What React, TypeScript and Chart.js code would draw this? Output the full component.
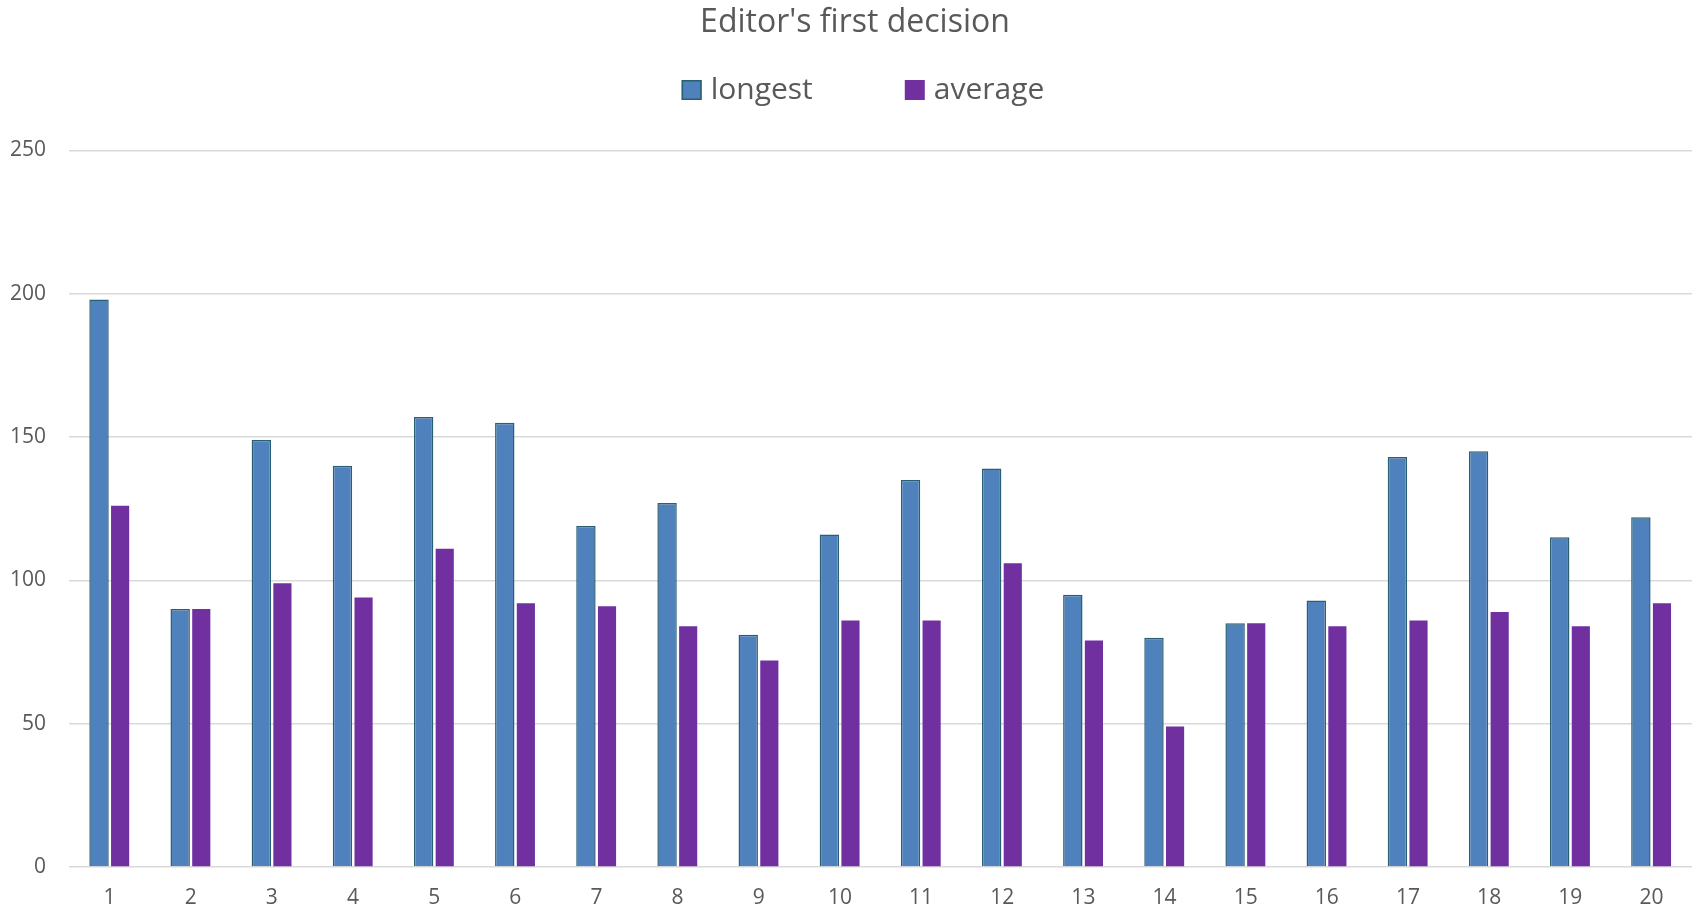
import React, { useEffect, useRef } from "react";
import { Chart, registerables } from "chart.js";

Chart.register(...registerables);

const categories = ["1","2","3","4","5","6","7","8","9","10","11","12","13","14","15","16","17","18","19","20"];
const longest = [198, 90, 149, 140, 157, 155, 119, 127, 81, 116, 135, 139, 95, 80, 85, 93, 143, 145, 115, 122];
const average = [126, 90, 99, 94, 111, 92, 91, 84, 72, 86, 86, 106, 79, 49, 85, 84, 86, 89, 84, 92];
const titleText = "Editor's first decision";

const FONT = "'Open Sans', sans-serif";
const TEXT = "#595959";

const legendPlugin = {
  id: "customLegend",
  afterLayout(chart: any) {
    const t = chart.titleBlock;
    if (t) {
      t.left = 18;
    }
  },
  afterDraw(chart: any) {
    const ctx = chart.ctx;
    const ds = chart.data.datasets;
    ctx.save();
    ctx.font = `30px ${FONT}`;
    const box = 20;
    const gapText = 9;
    const gapItem = 92;
    const widths = ds.map((d: any) => ctx.measureText(d.label).width);
    let total = 0;
    widths.forEach((w: number, i: number) => {
      total += box + gapText + w + (i < widths.length - 1 ? gapItem : 0);
    });
    let x = 863 - total / 2;
    const cy = 90;
    ctx.textBaseline = "middle";
    ctx.textAlign = "left";
    ds.forEach((d: any, i: number) => {
      ctx.fillStyle = d.backgroundColor;
      ctx.fillRect(x, cy - box / 2, box, box);
      if (d.borderWidth) {
        ctx.strokeStyle = d.borderColor;
        ctx.lineWidth = 1.5;
        ctx.strokeRect(x + 0.75, cy - box / 2 + 0.75, box - 1.5, box - 1.5);
      }
      ctx.fillStyle = TEXT;
      ctx.fillText(d.label, x + box + gapText, cy);
      x += box + gapText + widths[i] + gapItem;
    });
    ctx.restore();
  },
};

export default function App() {
  const ref = useRef<HTMLCanvasElement | null>(null);
  useEffect(() => {
    document.body.style.margin = "0";
    const ctx = ref.current!;
    const chart = new Chart(ctx, {
      type: "bar",
      data: {
        labels: categories,
        datasets: [
          {
            label: "longest",
            data: longest,
            backgroundColor: "#4F81BD",
            borderColor: "#2A5F73",
            borderWidth: 1.5,
            categoryPercentage: 0.52,
            barPercentage: 0.92,
          },
          {
            label: "average",
            data: average,
            backgroundColor: "#7030A0",
            borderColor: "#7030A0",
            borderWidth: 0,
            categoryPercentage: 0.52,
            barPercentage: 0.86,
          },
        ],
      },
      plugins: [legendPlugin],
      options: {
        animation: false,
        responsive: false,
        maintainAspectRatio: false,
        layout: { padding: { left: 0, right: 4, top: 0, bottom: 0 } },
        plugins: {
          title: {
            display: true,
            text: titleText,
            color: TEXT,
            font: { family: FONT, size: 32, weight: "normal" },
            padding: { top: 4, bottom: 108 },
          },
          legend: { display: false },
          tooltip: { enabled: false },
        },
        scales: {
          x: {
            grid: { display: false, drawTicks: false },
            border: { display: false },
            afterFit: (scale: any) => {
              scale.height = 44;
            },
            ticks: {
              color: TEXT,
              font: { family: FONT, size: 21 },
              padding: 18,
              maxRotation: 0,
            },
          },
          y: {
            min: 0,
            max: 250,
            afterFit: (scale: any) => {
              scale.width = 69;
            },
            ticks: {
              stepSize: 50,
              color: TEXT,
              font: { family: FONT, size: 21 },
              padding: 23,
            },
            grid: { color: "#D9D9D9", lineWidth: 1.5, drawTicks: false },
            border: { display: false },
          },
        },
      },
    });
    return () => chart.destroy();
  }, []);
  return (
    <div style={{ width: 1696, height: 911 }}>
      <canvas ref={ref} width={1696} height={911} style={{ display: "block" }} />
    </div>
  );
}
